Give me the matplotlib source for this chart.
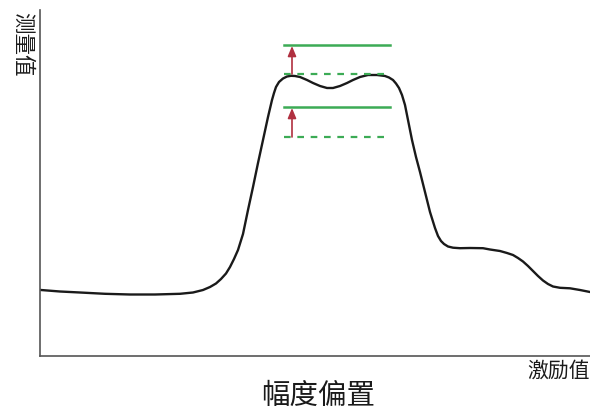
import matplotlib
matplotlib.use("Agg")
import matplotlib.pyplot as plt

plt.rcParams['font.family'] = ['Noto Sans CJK SC', 'DejaVu Sans']

curve_x = [1, 20, 40, 65, 90, 115, 140, 153, 163, 170, 176, 181, 186, 190,
           194, 198, 203, 208, 213, 218, 223, 228, 232, 234, 236, 239, 243,
           247, 251, 255, 260, 267, 273, 280, 287, 293, 300, 307, 313, 320,
           328, 337, 345, 349, 353, 356, 359, 362, 365, 368, 372, 376, 380,
           385, 390, 395, 398, 401, 404, 408, 413, 420, 430, 443, 450, 460,
           467, 473, 478, 483, 488, 493, 498, 503, 508, 513, 520, 530, 540, 550]
curve_y = [66, 64.5, 63.5, 62.2, 61.5, 61.5, 62.2, 63.5, 66, 69, 72.5, 77,
           82.5, 89, 97, 106, 122, 146, 169, 193, 216, 239, 256, 263, 269,
           274, 277.5, 279.5, 280.2, 280, 279, 276, 273, 270, 268, 268, 270,
           273, 276, 279, 281, 281, 280, 278.5, 276, 272.5, 268, 261, 251,
           236, 216, 199, 184, 164, 144, 128, 120, 115, 112, 109.5, 108.3,
           107.8, 108, 107.8, 106.5, 105, 103, 101, 98, 94.5, 90, 85, 80,
           75.5, 72, 69.5, 68.2, 67.7, 66, 64]

# offset markers: dashed = before, solid = after bias
level_x = [244, 350]
before_levels = [282, 219]
after_levels = [311, 249]
arrow_x = 252

fig = plt.figure(figsize=(5.9, 4.12), dpi=100)
ax = fig.add_axes([40 / 590, 1 - 356 / 412, 550 / 590, 346 / 412])

ax.plot(curve_x, curve_y, color='#1a1a1a', lw=1.7, solid_joinstyle='round')

green = '#3cab55'
for lo, hi in zip(before_levels, after_levels):
    ax.plot(level_x, [lo, lo], color=green, lw=1.6, ls=(0, (3, 3)))
    ax.plot(level_x, [hi, hi], color=green, lw=1.8)
    ax.annotate('', xy=(arrow_x, hi - 1), xytext=(arrow_x, lo),
                arrowprops=dict(arrowstyle='-|>,head_length=0.6,head_width=0.25',
                                color='#b03040', lw=1.2,
                                shrinkA=0, shrinkB=0))

ax.set_xlim(0, 550)
ax.set_ylim(0, 346)
ax.set_xticks([])
ax.set_yticks([])
for s in ['top', 'right']:
    ax.spines[s].set_visible(False)
for s in ['left', 'bottom']:
    ax.spines[s].set_color('#555555')
    ax.spines[s].set_linewidth(1.2)

fig.text(22 / 590, 1 - 44 / 412, '测量值', rotation=-90, ha='center', va='center',
         fontsize=15.5, color='#1a1a1a')
fig.text(1.0, 1 - 371 / 412, '激励值', ha='right', va='center',
         fontsize=15, color='#1a1a1a')
fig.text(318 / 590, 1 - 396 / 412, '幅度偏置', ha='center', va='center',
         fontsize=20.5, color='#1a1a1a')

fig.savefig('out.png', dpi=100)
